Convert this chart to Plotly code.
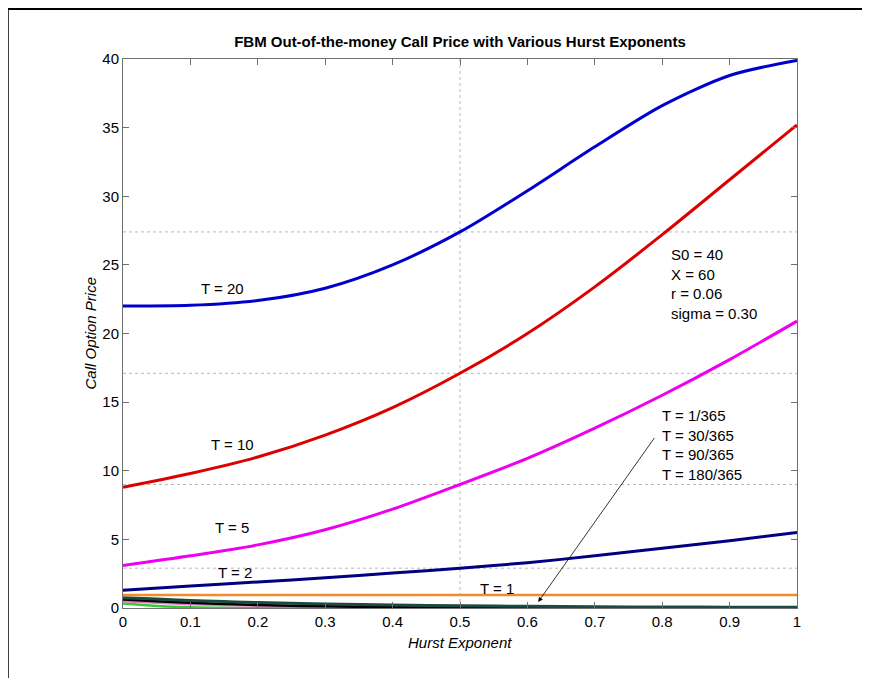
import plotly.graph_objects as go

# Hurst exponent grid
hurst = [0.0, 0.1, 0.2, 0.3, 0.4, 0.5, 0.6, 0.7, 0.8, 0.9, 1.0]
hurst_fine = [0.0, 0.05, 0.1, 0.15, 0.2, 0.3, 0.4, 0.5, 0.6, 0.7, 0.8, 0.9, 1.0]

# call prices
price_t20 = [22.0, 22.05, 22.4, 23.3, 25.0, 27.4, 30.4, 33.6, 36.6, 38.8, 39.9]
price_t10 = [8.8, 9.8, 11.0, 12.6, 14.6, 17.1, 20.0, 23.4, 27.2, 31.2, 35.2]
price_t5 = [3.1, 3.8, 4.6, 5.7, 7.2, 9.0, 10.9, 13.1, 15.5, 18.1, 20.9]
price_t2 = [1.3, 1.6, 1.9, 2.2, 2.55, 2.9, 3.3, 3.8, 4.35, 4.9, 5.5]
price_t1 = [0.95, 0.95, 0.95, 0.95, 0.95, 0.95, 0.95, 0.95, 0.95, 0.95, 0.95]
price_t1_365 = [0.32, 0.15, 0.05, 0.01, 0.0, 0.0, 0.0, 0.0, 0.0, 0.0, 0.0, 0.0, 0.0]
price_t30_365 = [0.5, 0.38, 0.28, 0.22, 0.18, 0.12, 0.08, 0.04, 0.02, 0.01, 0.0, 0.0, 0.0]
price_t90_365 = [0.62, 0.5, 0.38, 0.29, 0.22, 0.12, 0.06, 0.03, 0.01, 0.0, 0.0, 0.0, 0.0]
price_t180_365 = [0.75, 0.65, 0.55, 0.47, 0.4, 0.3, 0.22, 0.16, 0.12, 0.09, 0.07, 0.06, 0.05]

# dotted reference levels (prices at H = 0.5)
ref_levels = [27.4, 17.1, 9.0, 2.9]
ref_hurst = 0.5

FONT = "Arial, Liberation Sans, sans-serif"

fig = go.Figure()

# reference lines first so curves sit on top
for level in ref_levels:
    fig.add_trace(go.Scatter(
        x=[0, 1], y=[level, level], mode="lines",
        line=dict(color="#b8b8b8", width=1, dash="dot"), hoverinfo="skip",
    ))
fig.add_trace(go.Scatter(
    x=[ref_hurst, ref_hurst], y=[0, 40], mode="lines",
    line=dict(color="#b8b8b8", width=1, dash="dot"), hoverinfo="skip",
))

short_series = [
    (price_t1_365, "#33cc33", 2.5),
    (price_t30_365, "#e07ac4", 2.5),
    (price_t90_365, "#000000", 2.5),
    (price_t180_365, "#1b4a3f", 3),
]
for vals, color, width in short_series:
    fig.add_trace(go.Scatter(
        x=hurst_fine, y=vals, mode="lines", line_shape="spline",
        line=dict(color=color, width=width),
    ))

long_series = [
    (price_t1, "#f28c28", 2.5),
    (price_t2, "#000080", 3),
    (price_t5, "#ee00ee", 3),
    (price_t10, "#dd0000", 3),
    (price_t20, "#0000cc", 3),
]
for vals, color, width in long_series:
    fig.add_trace(go.Scatter(
        x=hurst, y=vals, mode="lines", line_shape="spline",
        line=dict(color=color, width=width, smoothing=0.8),
    ))

labels = [
    ("T = 20", 0.148, 23.3),
    ("T = 10", 0.162, 11.9),
    ("T = 5", 0.162, 5.9),
    ("T = 2", 0.166, 2.6),
    ("T = 1", 0.555, 1.4),
]
for text, x, y in labels:
    fig.add_annotation(x=x, y=y, text=text, showarrow=False,
                       font=dict(family=FONT, size=15, color="black"))

fig.add_annotation(
    x=0.81, y=23.6, text="S0 = 40<br>X = 60<br>r = 0.06<br>sigma = 0.30",
    showarrow=False, xanchor="left", yanchor="middle", align="left",
    font=dict(family=FONT, size=15, color="black"),
)
fig.add_annotation(
    x=0.796, y=11.9, text="T = 1/365<br>T = 30/365<br>T = 90/365<br>T = 180/365",
    showarrow=False, xanchor="left", yanchor="middle", align="left",
    font=dict(family=FONT, size=15, color="black"),
)
# arrow pointing to the short maturity curves
fig.add_annotation(
    x=0.616, y=0.44, ax=0.79, ay=12.5, axref="x", ayref="y",
    text="", showarrow=True, arrowhead=2, arrowsize=1.2, arrowwidth=0.8,
    arrowcolor="black",
)

# axis titles placed by hand
fig.add_annotation(
    x=0.5, y=0, xref="paper", yref="paper", yshift=-34, yanchor="middle",
    text="<i>Hurst Exponent</i>", showarrow=False,
    font=dict(family=FONT, size=15, color="black"),
)
fig.add_annotation(
    x=0, y=0.5, xref="paper", yref="paper", xshift=-33, xanchor="center",
    text="<i>Call Option Price</i>", showarrow=False, textangle=-90,
    font=dict(family=FONT, size=15, color="black"),
)

# outer frame of the figure
fig.add_shape(type="line", xref="paper", yref="paper",
              x0=-0.171, x1=2, y0=1.091, y1=1.091,
              line=dict(color="black", width=2))
fig.add_shape(type="line", xref="paper", yref="paper",
              x0=-0.171, x1=-0.171, y0=-1, y1=1.091,
              line=dict(color="black", width=2))

axis_common = dict(
    showline=True, linecolor="#707070", linewidth=1, mirror="allticks",
    ticks="inside", ticklen=6, tickcolor="#707070", showgrid=False,
    zeroline=False, tickfont=dict(family=FONT, size=15, color="black"),
)

# page has an 8px body offset, so size and margins are shifted by that
fig.update_layout(
    width=862, height=670,
    margin=dict(l=115, r=73, t=51, b=70),
    paper_bgcolor="white", plot_bgcolor="white",
    showlegend=False,
    title=dict(
        text="<b>FBM Out-of-the-money Call Price with Various Hurst Exponents</b>",
        x=(460 - 8) / 862, xanchor="center", xref="container",
        y=1 - 34 / 670, yanchor="middle",
        font=dict(family=FONT, size=15, color="black"),
    ),
    xaxis=dict(range=[0, 1], dtick=0.1, **axis_common),
    yaxis=dict(range=[0, 40], dtick=5, **axis_common),
)

fig.write_html("out.html")
